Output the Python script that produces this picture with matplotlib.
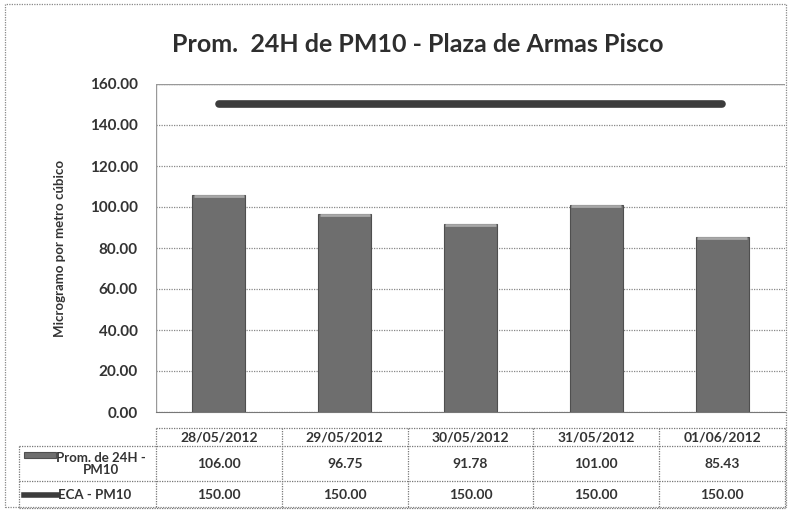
import matplotlib
matplotlib.use("Agg")
import matplotlib.pyplot as plt
from matplotlib.lines import Line2D
from matplotlib.patches import Rectangle

dates = ["28/05/2012", "29/05/2012", "30/05/2012", "31/05/2012", "01/06/2012"]
prom_pm10 = [106.00, 96.75, 91.78, 101.00, 85.43]
eca_pm10 = [150.00, 150.00, 150.00, 150.00, 150.00]
yticks = [0, 20, 40, 60, 80, 100, 120, 140, 160]
title = "Prom.  24H de PM10 - Plaza de Armas Pisco"
ylabel = "Microgramo por metro cúbico"
row_labels = ["Prom. de 24H -\nPM10", "ECA - PM10"]

FONT = ["Lato", "DejaVu Sans"]
plt.rcParams["font.family"] = FONT

W, H = 793, 511
fig = plt.figure(figsize=(W / 100, H / 100), dpi=100)
fig.patch.set_facecolor("white")

def fx(px):
    return px / W

def fy(py):
    return 1 - py / H

# outer dotted border
fig.add_artist(Rectangle((fx(5), fy(507)), fx(786) - fx(5), fy(4) - fy(507),
                         transform=fig.transFigure, fill=False, ec="#888888",
                         lw=0.9, ls=(0, (1, 1))))

left, right, top, bottom = 156, 785, 84, 412
ax = fig.add_axes([fx(left), fy(bottom), fx(right) - fx(left), fy(top) - fy(bottom)])
x = list(range(len(dates)))
ax.set_xlim(-0.5, len(dates) - 0.5)
ax.set_ylim(0, 160)
ax.set_yticks(yticks)
ax.set_yticklabels([f"{v:.2f}" for v in yticks], fontsize=11, fontweight="bold", color="#333333")
ax.set_xticks([])
ax.tick_params(axis="y", length=0, pad=13)
for s in ["top", "right", "left"]:
    ax.spines[s].set_visible(False)
ax.spines["bottom"].set_color("#777777")
ax.spines["bottom"].set_linestyle((0, (1, 1)))
ax.yaxis.grid(True, color="#888888", lw=0.9, ls=(0, (1, 1)))
ax.set_axisbelow(True)
ax.axhline(160, color="#999999", lw=1.0)
ax.axvline(-0.5, color="#999999", lw=1.0)

bars = ax.bar(x, prom_pm10, width=0.42, color="#6e6e6e", edgecolor="#4f4f4f", lw=0.8, zorder=3)
for b in bars:
    ax.plot([b.get_x() + 0.01, b.get_x() + b.get_width() - 0.01], [b.get_height() - 0.6] * 2,
            color="#a8a8a8", lw=2, zorder=4, solid_capstyle="butt")
ax.plot(x, eca_pm10, color="#3c3c3c", lw=5.5, solid_capstyle="round", zorder=4)

ax.set_ylabel(ylabel, fontsize=9.5, fontweight="bold", color="#333333")
ax.yaxis.set_label_coords(-(left - 66) / (right - left), 0.5)

fig.text(fx(418), fy(45), title, ha="center", va="center", fontsize=18,
         fontweight="bold", color="#2e2e2e")

# data table
col_w = (right - left) / len(dates)
rows_y = [428, 446, 481, 508]
lab_left = 19
ls = (0, (1, 1))
lc = "#777777"

def hline(y, x0, x1):
    fig.add_artist(Line2D([fx(x0), fx(x1)], [fy(y), fy(y)], transform=fig.transFigure,
                          color=lc, lw=0.9, ls=ls))

def vline(xp, y0, y1):
    fig.add_artist(Line2D([fx(xp), fx(xp)], [fy(y0), fy(y1)], transform=fig.transFigure,
                          color=lc, lw=0.9, ls=ls))

hline(rows_y[0], left, right)
for y in rows_y[1:]:
    hline(y, lab_left, right)
vline(lab_left, rows_y[1], rows_y[3])
for i in range(len(dates) + 1):
    vline(left + i * col_w, rows_y[0], rows_y[3])

for i, d in enumerate(dates):
    cx = fx(left + (i + 0.5) * col_w)
    fig.text(cx, fy((rows_y[0] + rows_y[1]) / 2), d, ha="center", va="center",
             fontsize=10, fontweight="bold", color="#333333")
    fig.text(cx, fy((rows_y[1] + rows_y[2]) / 2), f"{prom_pm10[i]:.2f}", ha="center",
             va="center", fontsize=10, fontweight="bold", color="#333333")
    fig.text(cx, fy((rows_y[2] + rows_y[3]) / 2), f"{eca_pm10[i]:.2f}", ha="center",
             va="center", fontsize=10, fontweight="bold", color="#333333")

# row labels with legend keys
fig.text(fx(101), fy((rows_y[1] + rows_y[2]) / 2), row_labels[0], ha="center", va="center",
         fontsize=9.5, fontweight="bold", color="#333333", linespacing=1.0)
fig.add_artist(Rectangle((fx(24), fy(458)), fx(56) - fx(24), fy(452) - fy(458),
                         transform=fig.transFigure, fc="#6e6e6e", ec="#4f4f4f", lw=0.8))
fig.text(fx(58), fy((rows_y[2] + rows_y[3]) / 2), row_labels[1], ha="left", va="center",
         fontsize=9.5, fontweight="bold", color="#333333")
fig.add_artist(Line2D([fx(24), fx(57)], [fy(494.5), fy(494.5)], transform=fig.transFigure,
                      color="#3c3c3c", lw=4))

fig.savefig("out.png", dpi=100)
